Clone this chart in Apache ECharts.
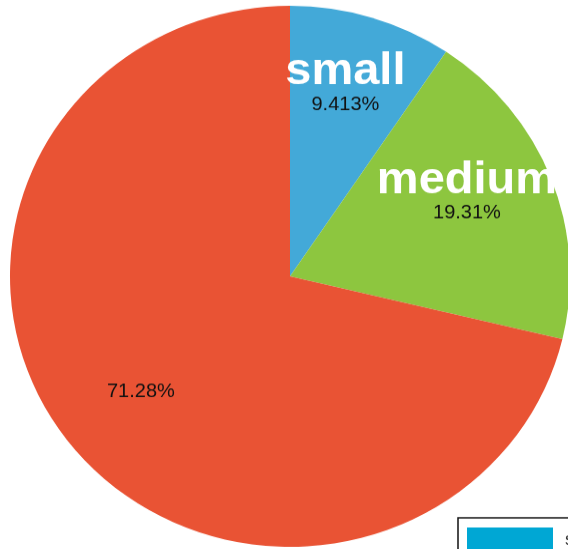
<!DOCTYPE html>
<html>
<head>
<meta charset="utf-8">
<title>Size share</title>
<script src="https://cdn.jsdelivr.net/npm/echarts@6/dist/echarts.min.js"></script>
<style>
  html, body { margin: 0; padding: 0; background: #ffffff; overflow: hidden; width: 568px; height: 549px; }
  /* the chart is drawn on a square canvas and flattened slightly in height */
  #chart { width: 568px; height: 568px; transform: scaleY(0.9661); transform-origin: 0 0; }
</style>
</head>
<body>
<div id="chart"></div>
<script>
// Share of each size class, in percent
const categories = ['small', 'medium', 'large'];
const shares = [9.413, 19.31, 71.28];
// Which slices also print their name above the percentage
const showName = [true, true, false];

const sliceColors = ['#43a9d8', '#8dc63f', '#e95334'];
const legendColors = ['#00a7d4', '#8dc63f', '#e95334'];

const FONT = '"Liberation Sans", Arial, Helvetica, sans-serif';
const NAME_LINE = 46;

const chart = echarts.init(document.getElementById('chart'), null, { renderer: 'canvas' });

const pieCenter = [290, 286];

const sliceData = categories.map((name, i) => ({
  name: name,
  value: shares[i],
  itemStyle: { color: sliceColors[i] }
}));

// The percentage sits just below the label anchor; the name (when shown) is stacked above it.
const labelData = categories.map((name, i) => ({
  name: name,
  value: shares[i],
  label: showName[i]
    ? { formatter: '{n|{b}}\n{v|{c}%}', padding: [0, 0, NAME_LINE - 8, 0] }
    : { formatter: '{v|{c}%}', padding: [4, 0, 0, 0] }
}));

const option = {
  animation: false,
  backgroundColor: '#ffffff',
  legend: {
    orient: 'vertical',
    left: 458,
    top: 536,
    height: 200,
    padding: [10, 8, 10, 9],
    borderColor: '#111111',
    borderWidth: 1.5,
    itemWidth: 86,
    itemHeight: 26,
    itemGap: 10,
    icon: 'rect',
    selectedMode: false,
    textStyle: {
      fontFamily: FONT,
      fontSize: 18,
      color: '#333333',
      padding: [0, 0, 0, 7]
    },
    data: categories.map((name, i) => ({
      name: name,
      itemStyle: { color: legendColors[i] }
    }))
  },
  series: [
    {
      // the slices themselves
      type: 'pie',
      center: pieCenter,
      radius: [0, 280],
      startAngle: 90,
      clockwise: true,
      silent: true,
      label: { show: false },
      labelLine: { show: false },
      emphasis: { disabled: true },
      data: sliceData
    },
    {
      // transparent ring that only carries the labels, placed further out
      type: 'pie',
      center: pieCenter,
      radius: [94, 280],
      startAngle: 90,
      clockwise: true,
      silent: true,
      itemStyle: { color: 'rgba(0,0,0,0)' },
      labelLine: { show: false },
      emphasis: { disabled: true },
      label: {
        show: true,
        position: 'inside',
        align: 'center',
        rich: {
          n: {
            fontFamily: FONT,
            fontWeight: 'bold',
            fontSize: 47,
            lineHeight: NAME_LINE,
            color: '#ffffff',
            align: 'center'
          },
          v: {
            fontFamily: FONT,
            fontSize: 20,
            lineHeight: 22,
            color: '#111111',
            align: 'center'
          }
        }
      },
      data: labelData
    }
  ]
};

chart.setOption(option);
</script>
</body>
</html>
